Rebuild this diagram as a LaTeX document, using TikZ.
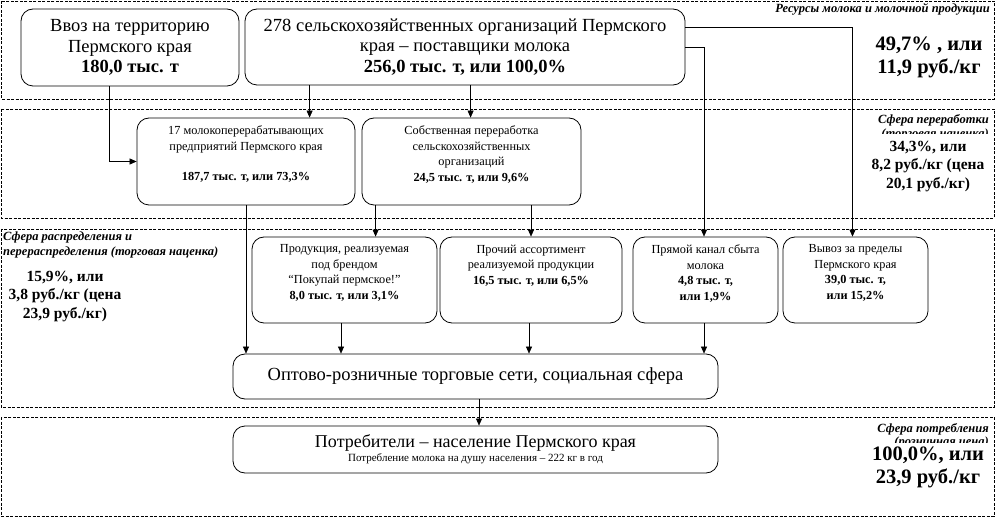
\documentclass[tikz,border=0pt]{standalone}
\usepackage{fontspec}
\setmainfont{Liberation Serif}
\usetikzlibrary{arrows.meta}
\begin{document}
\begin{tikzpicture}[x=1pt,y=-1pt,
  band/.style={draw, dash pattern=on 3pt off 1.5pt, line width=0.6pt},
  box/.style={draw, line width=0.8pt, rounded corners=12pt, inner sep=0pt, align=center},
  bigtxt/.style={font=\fontsize{18.5}{20.5}\selectfont},
  smalltxt/.style={font=\fontsize{12.3}{15.5}\selectfont, align=center, inner sep=0pt, anchor=north},
  sphere/.style={font=\fontsize{12.5}{15}\selectfont\bfseries\itshape, inner sep=0pt},
  num/.style={font=\fontsize{15.5}{18.5}\selectfont\bfseries, align=center, inner sep=0pt},
  bignum/.style={font=\fontsize{20.5}{22.5}\selectfont\bfseries, align=center, inner sep=0pt},
  arr/.style={-{Triangle[length=7pt,width=6pt]}, line width=0.6pt},
  ln/.style={line width=0.6pt}
]
\useasboundingbox (0,0) rectangle (995,518);
% bands
\draw[band] (1,1) rectangle (994,99);
\draw[band] (1,109) rectangle (994,218);
\draw[band] (1,229) rectangle (994,407);
\draw[band] (1,417) rectangle (994,516);

% boxes
\node[box, bigtxt, minimum width=218pt, minimum height=77pt] (A) at (130,47.5)
  {Ввоз на территорию\\Пермского края\\\textbf{180,0 тыс. т}};
\node[box, bigtxt, minimum width=440pt, minimum height=76pt] (B) at (465,47)
  {278 сельскохозяйственных организаций Пермского\\края – поставщики молока\\\textbf{256,0 тыс. т, или 100,0\%}};
\node[box, minimum width=218pt, minimum height=87pt] (C) at (246,161.5) {};
\node[box, minimum width=219pt, minimum height=87pt] (D) at (471.5,161.5) {};
\node[box, minimum width=185pt, minimum height=86pt] (E) at (344.5,280) {};
\node[box, minimum width=182pt, minimum height=86pt] (F) at (531,280) {};
\node[box, minimum width=145pt, minimum height=86pt] (G) at (705.5,280) {};
\node[box, minimum width=145pt, minimum height=86pt] (H) at (855.5,280) {};
\node[box, bigtxt, minimum width=485pt, minimum height=45pt] (I) at (475.5,376.5)
  {Оптово-розничные торговые сети, социальная сфера};
\node[box, minimum width=485pt, minimum height=47pt] (J) at (475.5,449.5)
  {{\fontsize{18}{19}\selectfont Потребители – население Пермского края}\\[2pt]
   {\fontsize{11}{12}\selectfont Потребление молока на душу населения – 222 кг в год}};

% box texts
\node[smalltxt] (Ct) at ([yshift=-8pt]C.north)
  {17 молокоперерабатывающих\\предприятий Пермского края\\[15pt]\textbf{187,7 тыс. т, или 73,3\%}};
\node[smalltxt] (Dt) at ([yshift=-8pt]D.north)
  {Собственная переработка\\сельскохозяйственных\\организаций\\\textbf{24,5 тыс. т, или 9,6\%}};
\node[smalltxt] (Et) at ([yshift=-8pt]E.north)
  {Продукция, реализуемая\\под брендом\\“Покупай пермское!”\\\textbf{8,0 тыс. т, или 3,1\%}};
\node[smalltxt] (Ft) at ([yshift=-8pt]F.north)
  {Прочий ассортимент\\реализуемой продукции\\\textbf{16,5 тыс. т, или 6,5\%}};
\node[smalltxt] (Gt) at ([yshift=-8pt]G.north)
  {Прямой канал сбыта\\молока\\\textbf{4,8 тыс. т,}\\\textbf{или 1,9\%}};
\node[smalltxt] (Ht) at ([yshift=-8pt]H.north)
  {Вывоз за пределы\\Пермского края\\\textbf{39,0 тыс. т,}\\\textbf{или 15,2\%}};

% sphere labels
\node[sphere, anchor=east] (s1) at (990,9.5) {Ресурсы молока и молочной продукции};
\node[bignum] (n1) at (929,57.5) {49,7\% , или\\11,9 руб./кг};

\node[sphere, anchor=east] (s2) at (989,120) {Сфера переработки};
\begin{scope}
  \clip (780,127) rectangle (993,134);
  \node[sphere, anchor=east] (s2b) at (989,134) {(торговая наценка)};
\end{scope}
\node[num] (n2) at (928,166.5) {34,3\%, или\\8,2 руб./кг (цена\\20,1 руб./кг)};

\node[sphere, anchor=west, align=left] (s3) at (3,244.5) {Сфера распределения и\\перераспределения (торговая наценка)};
\node[num] (n3) at (65,296.5) {15,9\%, или\\3,8 руб./кг (цена\\23,9 руб./кг)};

\node[sphere, anchor=east] (s4) at (989,429.5) {Сфера потребления};
\begin{scope}
  \clip (780,435.5) rectangle (993,442.5);
  \node[sphere, anchor=east] (s4b) at (989,442.5) {(розничная цена)};
\end{scope}
\node[bignum] (n4) at (928,467.5) {100,0\%, или\\23,9 руб./кг};

% connectors
\draw[arr] ([xshift=89pt]A.south west) |- (C.west);
\draw[arr] ([xshift=65pt]B.south west) -- ([xshift=65pt]B.south west |- C.north);
\draw[arr] ([xshift=226pt]B.south west) -- ([xshift=226pt]B.south west |- D.north);
\draw[arr] ([yshift=-19pt]B.north east) -| ([xshift=-3pt]H.north);
\draw[arr] (B.east) -| ([xshift=-1.5pt]G.north);
\draw[arr] (C.south) -- (C.south |- I.north);
\draw[arr] ([xshift=14pt]D.south west) -- ([xshift=14pt]D.south west |- E.north);
\draw[arr] (D.south -| F.north) -- (F.north);
\draw[arr] ([xshift=-3.5pt]E.south) -- ([xshift=-3.5pt]E.south |- I.north);
\draw[arr] ([xshift=-2pt]F.south) -- ([xshift=-2pt]F.south |- I.north);
\draw[arr] ([xshift=-1.5pt]G.south) -- ([xshift=-1.5pt]G.south |- I.north);
\draw[arr] ([xshift=3.5pt]I.south) -- ([xshift=3.5pt]I.south |- J.north);
\end{tikzpicture}
\end{document}
